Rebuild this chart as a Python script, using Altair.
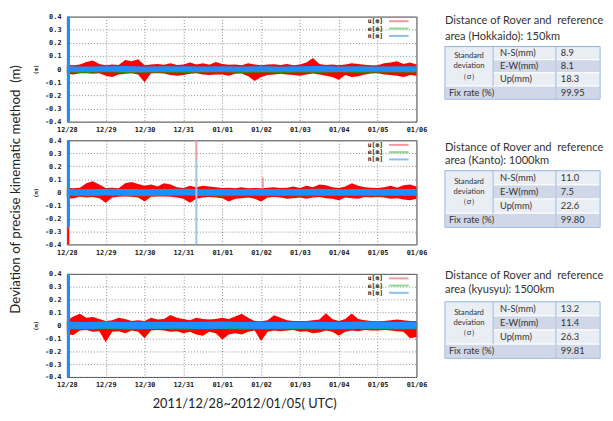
import altair as alt
import pandas as pd

# ---------------- data ----------------
START = "2011-12-28 00:00"
RED_STEP = "4h"      # envelope sampling of u[m]
BAND_STEP = "12h"    # envelope sampling of e[m] / n[m]

day_ticks = ["2011-12-28", "2011-12-29", "2011-12-30", "2011-12-31", "2012-01-01",
             "2012-01-02", "2012-01-03", "2012-01-04", "2012-01-05", "2012-01-06"]
y_ticks = [-0.4, -0.3, -0.2, -0.1, 0.0, 0.1, 0.2, 0.3, 0.4]
series_names = ["u[m]", "e[m]", "n[m]"]

# Hokkaido (150 km)
hok_u_hi = [0.032, 0.03, 0.035, 0.055, 0.065, 0.04,
            0.03, 0.035, 0.032, 0.07, 0.06, 0.075,
            0.03, 0.035, 0.04, 0.033, 0.045, 0.032,
            0.035, 0.05, 0.035, 0.045, 0.033, 0.055,
            0.04, 0.033, 0.035, 0.03, 0.045, 0.035,
            0.03, 0.035, 0.038, 0.032, 0.04, 0.03,
            0.035, 0.05, 0.085, 0.04, 0.032, 0.035,
            0.03, 0.035, 0.045, 0.04, 0.033, 0.03,
            0.03, 0.045, 0.05, 0.06, 0.04, 0.05, 0.035]
hok_u_lo = [-0.035, -0.04, -0.032, -0.032, -0.035, -0.032,
            -0.05, -0.06, -0.04, -0.035, -0.032, -0.04,
            -0.1, -0.032, -0.032, -0.033, -0.045, -0.05,
            -0.045, -0.035, -0.032, -0.04, -0.045, -0.04,
            -0.04, -0.05, -0.035, -0.033, -0.055, -0.09,
            -0.06, -0.045, -0.04, -0.035, -0.04, -0.045,
            -0.05, -0.04, -0.033, -0.04, -0.05, -0.06,
            -0.08, -0.045, -0.06, -0.055, -0.04, -0.033,
            -0.032, -0.04, -0.045, -0.05, -0.06, -0.045, -0.05]
hok_e_hi = [0.012, 0.01, 0.014, 0.01, 0.012, 0.015, 0.01, 0.012, 0.01, 0.014,
            0.012, 0.01, 0.013, 0.01, 0.012, 0.014, 0.01, 0.012, 0.01]
hok_e_lo = [-0.026, -0.028, -0.024, -0.028, -0.026, -0.025, -0.028, -0.026, -0.024, -0.028,
            -0.026, -0.028, -0.025, -0.027, -0.024, -0.028, -0.026, -0.025, -0.026]
hok_n_hi = [0.022, 0.02, 0.021, 0.023, 0.02, 0.021, 0.022, 0.02, 0.021, 0.02,
            0.022, 0.02, 0.021, 0.023, 0.02, 0.021, 0.02, 0.022, 0.021]
hok_n_lo = [-0.021, -0.02, -0.018, -0.021, -0.023, -0.02, -0.018, -0.021, -0.02, -0.018,
            -0.021, -0.02, -0.018, -0.02, -0.021, -0.02, -0.018, -0.02, -0.02]
hok_spk_t = ["2011-12-28 01:00"]
hok_spk_lo = [-0.4]
hok_spk_hi = [0.4]
hok_spk_s = ["n[m]"]

# Kanto (1000 km)
kan_u_hi = [0.035, 0.032, 0.035, 0.07, 0.085, 0.06,
            0.033, 0.035, 0.032, 0.07, 0.08, 0.065,
            0.05, 0.06, 0.045, 0.07, 0.06, 0.04,
            0.033, 0.05, 0.04, 0.05, 0.045, 0.04,
            0.033, 0.035, 0.032, 0.04, 0.032, 0.033,
            0.032, 0.035, 0.04, 0.033, 0.035, 0.045,
            0.033, 0.05, 0.04, 0.06, 0.055, 0.04,
            0.033, 0.045, 0.07, 0.05, 0.04, 0.035,
            0.033, 0.04, 0.05, 0.035, 0.055, 0.06, 0.045]
kan_u_lo = [-0.05, -0.045, -0.033, -0.04, -0.035, -0.045,
            -0.08, -0.04, -0.033, -0.032, -0.033, -0.04,
            -0.07, -0.033, -0.032, -0.032, -0.033, -0.04,
            -0.05, -0.08, -0.05, -0.04, -0.035, -0.04,
            -0.045, -0.07, -0.05, -0.045, -0.04, -0.05,
            -0.07, -0.04, -0.035, -0.04, -0.05, -0.045,
            -0.04, -0.05, -0.04, -0.035, -0.045, -0.05,
            -0.06, -0.04, -0.045, -0.05, -0.035, -0.04,
            -0.035, -0.04, -0.05, -0.045, -0.055, -0.06, -0.05]
kan_e_hi = [0.014, 0.012, 0.015, 0.012, 0.014, 0.016, 0.012, 0.014, 0.012, 0.015,
            0.013, 0.012, 0.014, 0.012, 0.015, 0.014, 0.012, 0.014, 0.012]
kan_e_lo = [-0.028, -0.03, -0.026, -0.028, -0.03, -0.028, -0.026, -0.028, -0.03, -0.028,
            -0.026, -0.028, -0.029, -0.028, -0.026, -0.028, -0.03, -0.028, -0.028]
kan_n_hi = [0.026, 0.024, 0.027, 0.025, 0.024, 0.026, 0.027, 0.024, 0.026, 0.024,
            0.026, 0.024, 0.026, 0.027, 0.024, 0.026, 0.024, 0.026, 0.026]
kan_n_lo = [-0.022, -0.024, -0.021, -0.023, -0.025, -0.022, -0.021, -0.024, -0.022, -0.021,
            -0.024, -0.022, -0.021, -0.023, -0.024, -0.022, -0.021, -0.023, -0.022]
kan_spk_t = ["2011-12-28 01:00", "2011-12-28 01:00", "2011-12-31 08:00", "2011-12-31 08:00", "2012-01-02 01:00"]
kan_spk_lo = [-0.27, -0.4, 0.25, -0.4, 0.03]
kan_spk_hi = [0.4, -0.27, 0.4, 0.25, 0.115]
kan_spk_s = ["n[m]", "u[m]", "u[m] faint", "n[m] faint", "u[m] faint"]

# Kyusyu (1500 km)
kyu_u_hi = [0.04, 0.07, 0.09, 0.06, 0.065, 0.05,
            0.035, 0.04, 0.06, 0.05, 0.035, 0.04,
            0.035, 0.06, 0.045, 0.05, 0.08, 0.06,
            0.05, 0.04, 0.06, 0.05, 0.045, 0.05,
            0.06, 0.05, 0.07, 0.09, 0.06, 0.035,
            0.033, 0.04, 0.078, 0.06, 0.04, 0.035,
            0.035, 0.035, 0.04, 0.045, 0.095, 0.05,
            0.035, 0.05, 0.093, 0.05, 0.04, 0.035,
            0.033, 0.035, 0.04, 0.045, 0.04, 0.035, 0.035]
kyu_u_lo = [-0.07, -0.075, -0.04, -0.035, -0.05, -0.045,
            -0.13, -0.05, -0.045, -0.06, -0.04, -0.05,
            -0.1, -0.04, -0.035, -0.04, -0.05, -0.045,
            -0.06, -0.05, -0.07, -0.08, -0.05, -0.06,
            -0.11, -0.07, -0.06, -0.07, -0.05, -0.04,
            -0.12, -0.05, -0.04, -0.045, -0.04, -0.035,
            -0.05, -0.045, -0.06, -0.055, -0.04, -0.05,
            -0.08, -0.05, -0.04, -0.045, -0.035, -0.04,
            -0.04, -0.035, -0.04, -0.045, -0.05, -0.1, -0.09]
kyu_e_hi = [0.03, 0.025, 0.022, 0.024, 0.022, 0.026, 0.022, 0.024, 0.027, 0.022,
            0.024, 0.022, 0.026, 0.022, 0.024, 0.022, 0.026, 0.024, 0.022]
kyu_e_lo = [-0.03, -0.032, -0.028, -0.031, -0.03, -0.028, -0.032, -0.03, -0.028, -0.031,
            -0.03, -0.032, -0.028, -0.03, -0.031, -0.028, -0.03, -0.032, -0.03]
kyu_n_hi = [0.028, 0.026, 0.03, 0.026, 0.028, 0.029, 0.026, 0.028, 0.03, 0.026,
            0.028, 0.026, 0.029, 0.028, 0.026, 0.03, 0.028, 0.026, 0.028]
kyu_n_lo = [-0.026, -0.028, -0.024, -0.026, -0.028, -0.026, -0.024, -0.028, -0.026, -0.024,
            -0.028, -0.026, -0.024, -0.026, -0.028, -0.026, -0.024, -0.026, -0.026]
kyu_spk_t = ["2011-12-28 01:00"]
kyu_spk_lo = [-0.4]
kyu_spk_hi = [0.4]
kyu_spk_s = ["n[m]"]

# tables
region_heads = ["Distance of Rover and\u00a0 reference"] * 3
region_lines = ["area (Hokkaido): 150km", "area (Kanto): 1000km", "area (kyusyu): 1500km"]
std_rows = ["N-S(mm)", "E-W(mm)", "Up(mm)"]
std_label = ["Standard", "deviation", "（σ）"]
std_ns = [8.9, 11.0, 13.2]
std_ew = [8.1, 7.5, 11.4]
std_up = [18.3, 22.6, 26.3]
fix_rate = [99.95, 99.80, 99.81]

# ---------------- styles / layout ----------------
series_color = {"u[m]": "#ff0000", "e[m]": "#00b400", "n[m]": "#1e8fff",
                "u[m] faint": "#e89c9c", "n[m] faint": "#9cc3e8"}
series_width = {"u[m]": 1.5, "e[m]": 1.5, "n[m]": 3, "u[m] faint": 2, "n[m] faint": 2}
legend_color = ["#f39a9a", "#8fd88f", "#8cc0ec"]
MONO = "DejaVu Sans Mono"
SANS = "Lato"
PW = 356


def dt(s):
    ts = pd.Timestamp(s)
    return alt.DateTime(year=ts.year, month=ts.month, date=ts.day, hours=ts.hour, minutes=ts.minute)


X_ENC = alt.X("t:T", title=None,
              scale=alt.Scale(domain=[dt(day_ticks[0]), dt(day_ticks[-1])]),
              axis=alt.Axis(values=[dt(d) for d in day_ticks], format="%m/%d", labelPadding=4,
                            labelOverlap=False, labelFlush=False, tickCount=len(day_ticks)))
Y_ENC = alt.Y("hi:Q", title="(m)",
              scale=alt.Scale(domain=[-0.4, 0.4], nice=False, zero=False),
              axis=alt.Axis(values=y_ticks, labelPadding=6, titlePadding=6, labelOverlap=False,
                            tickCount=len(y_ticks),
                            labelExpr="datum.value == 0 ? '0' : (datum.value < 0 ? '-' : '') + format(abs(datum.value), '.1f')"))


def panel(u_hi, u_lo, e_hi, e_lo, n_hi, n_lo, spk_t, spk_lo, spk_hi, spk_s, height, extra=None):
    red = pd.DataFrame({"t": pd.date_range(START, periods=len(u_hi), freq=RED_STEP), "hi": u_hi, "lo": u_lo})
    grn = pd.DataFrame({"t": pd.date_range(START, periods=len(e_hi), freq=BAND_STEP), "hi": e_hi, "lo": e_lo})
    blu = pd.DataFrame({"t": pd.date_range(START, periods=len(n_hi), freq=BAND_STEP), "hi": n_hi, "lo": n_lo})
    spk = pd.DataFrame({"t": pd.to_datetime(spk_t), "lo": spk_lo, "hi": spk_hi, "s": spk_s})
    spk["c"] = spk["s"].map(series_color)
    spk["w"] = spk["s"].map(series_width)
    leg = pd.DataFrame({"label": series_names, "row": [0, 1, 2], "c": legend_color})

    area_red = alt.Chart(red).mark_area(color="#ff0000", interpolate="linear").encode(
        x=X_ENC, y=Y_ENC, y2="lo:Q")
    area_grn = alt.Chart(grn).mark_area(color="#00b400", interpolate="linear").encode(
        x=X_ENC, y=Y_ENC, y2="lo:Q")
    area_blu = alt.Chart(blu).mark_area(color="#1e8fff", interpolate="linear").encode(
        x=X_ENC, y=Y_ENC, y2="lo:Q")
    spikes = alt.Chart(spk).mark_rule().encode(
        x=X_ENC, y=Y_ENC, y2="lo:Q",
        color=alt.Color("c:N", scale=None),
        strokeWidth=alt.StrokeWidth("w:Q", scale=None))
    leg_base = alt.Chart(leg).transform_calculate(hi="0.365 - datum.row * 0.056")
    leg_text = leg_base.mark_text(align="right", baseline="middle", font=MONO, fontWeight="bold",
                                  fontSize=6.5, color="#111").encode(
        x=alt.value(322), y=Y_ENC, text="label:N")
    leg_line = leg_base.mark_rule(strokeWidth=2).encode(
        x=alt.value(328), x2=alt.value(348), y=Y_ENC, color=alt.Color("c:N", scale=None))
    layers = [area_red, area_grn, area_blu, spikes, leg_text, leg_line]
    if extra is not None:
        layers.append(extra)
    return alt.layer(*layers).properties(width=PW, height=height)


big_title = alt.Chart(pd.DataFrame({"txt": ["Deviation of precise kinematic method\u00a0 (m)"]})).mark_text(
    angle=270, align="center", baseline="middle", font=SANS, fontSize=13.5, color="#222").encode(
    x=alt.value(-52), y=alt.value(50), text="txt:N")
bottom_title = alt.Chart(pd.DataFrame({"txt": ["2011/12/28~2012/01/05( UTC)"]})).mark_text(
    align="center", baseline="middle", font=SANS, fontSize=13, color="#222").encode(
    x=alt.value(181), y=alt.value(133), text="txt:N")

p1 = panel(hok_u_hi, hok_u_lo, hok_e_hi, hok_e_lo, hok_n_hi, hok_n_lo,
           hok_spk_t, hok_spk_lo, hok_spk_hi, hok_spk_s, 107)
p2 = panel(kan_u_hi, kan_u_lo, kan_e_hi, kan_e_lo, kan_n_hi, kan_n_lo,
           kan_spk_t, kan_spk_lo, kan_spk_hi, kan_spk_s, 106, big_title)
p3 = panel(kyu_u_hi, kyu_u_lo, kyu_e_hi, kyu_e_lo, kyu_n_hi, kyu_n_lo,
           kyu_spk_t, kyu_spk_lo, kyu_spk_hi, kyu_spk_s, 105, bottom_title)

# ---------------- tables ----------------
TW = 158
COL_EDGES = [0, 49, 113, 158]


def table(i, chart_h, head_lines_y, table_top, row_h):
    xs = alt.Scale(domain=[0, TW], nice=False, zero=False)
    ys = alt.Scale(domain=[0, chart_h], reverse=True, nice=False, zero=False)
    redge = [table_top + k * row_h for k in range(5)]
    rmid = [table_top + (k + 0.5) * row_h for k in range(4)]
    cells = pd.DataFrame({
        "c0": [0, 1, 2, 1, 2, 1, 2, 0, 2],
        "c1": [1, 2, 3, 2, 3, 2, 3, 2, 3],
        "r0": [0, 0, 0, 1, 1, 2, 2, 3, 3],
        "r1": [3, 1, 1, 2, 2, 3, 3, 4, 4],
        "shade": ["light", "light", "light", "dark", "dark", "light", "light", "dark", "dark"],
    })
    cells["x0"] = cells["c0"].map(lambda c: COL_EDGES[c])
    cells["x1"] = cells["c1"].map(lambda c: COL_EDGES[c])
    cells["y0"] = cells["r0"].map(lambda r: redge[r])
    cells["y1"] = cells["r1"].map(lambda r: redge[r])
    X = lambda f: alt.X(f, scale=xs, axis=None)
    Y = lambda f: alt.Y(f, scale=ys, axis=None)
    rects = alt.Chart(cells).mark_rect(stroke="white", strokeWidth=1).encode(
        x=X("x0:Q"), x2="x1:Q", y=Y("y0:Q"), y2="y1:Q",
        fill=alt.Fill("shade:N", scale=alt.Scale(domain=["light", "dark"], range=["#e9edf4", "#cfd7e8"]),
                      legend=None))
    border = alt.Chart(pd.DataFrame({"x0": [0], "x1": [TW], "y0": [redge[0]], "y1": [redge[4]]})).mark_rect(
        fill="transparent", stroke="#8fb0dc", strokeWidth=1).encode(
        x=X("x0:Q"), x2="x1:Q", y=Y("y0:Q"), y2="y1:Q")
    vlines = alt.Chart(pd.DataFrame({"x0": COL_EDGES[1:3], "y0": [redge[0]] * 2,
                                     "y1": [redge[3], redge[4]]})).mark_rule(
        stroke="#8fb0dc", strokeWidth=1).encode(x=X("x0:Q"), y=Y("y0:Q"), y2="y1:Q")
    vals = [f"{std_ns[i]:.1f}", f"{std_ew[i]:.1f}", f"{std_up[i]:.1f}", f"{fix_rate[i]:.2f}"]
    txt = pd.DataFrame({
        "label": std_rows + ["Fix rate (%)"] + vals,
        "x0": [COL_EDGES[1] + 7] * 3 + [4] + [COL_EDGES[2] + 5] * 4,
        "y0": rmid * 2,
    })
    texts = alt.Chart(txt).mark_text(align="left", baseline="middle", font=SANS, fontSize=9.5,
                                     color="#333").encode(x=X("x0:Q"), y=Y("y0:Q"), text="label:N")
    sd_lh = 10.5
    sd = alt.Chart(pd.DataFrame({"label": std_label, "x0": [COL_EDGES[1] / 2] * 3,
                                 "y0": [rmid[1] - sd_lh, rmid[1], rmid[1] + sd_lh]})).mark_text(
        align="center", baseline="middle", font=SANS, fontSize=7.8, color="#333").encode(
        x=X("x0:Q"), y=Y("y0:Q"), text="label:N")
    head = alt.Chart(pd.DataFrame({"label": [region_heads[i], region_lines[i]], "x0": [0, 0],
                                   "y0": head_lines_y})).mark_text(
        align="left", baseline="middle", font=SANS, fontSize=11.3, color="#333").encode(
        x=X("x0:Q"), y=Y("y0:Q"), text="label:N")
    return alt.layer(rects, vlines, border, texts, sd, head).properties(
        width=TW, height=chart_h, view=alt.ViewBackground(stroke="transparent"))


t1 = table(0, 87, [4.5, 20.5], 30.5, 13.4)
t2 = table(1, 116.6, [7.5, 21.5], 31.0, 14.4)
t3 = table(2, 87, [2.0, 16.0], 28.4, 14.4)

chart = alt.concat(p1, t1, p2, t2, p3, t3, columns=2, spacing={"row": 19, "column": 29},
                   bounds="flush", align="each").properties(
    padding={"left": 0, "top": 0, "right": 0, "bottom": 0}
).configure_view(stroke="#444", strokeWidth=1).configure_axis(
    labelFont=MONO, labelFontWeight="bold", labelFontSize=7, labelColor="#222",
    ticks=False, domain=False, grid=True, gridColor="#8a8a8a", gridDash=[1, 2], gridWidth=1,
    labelFlush=False, labelOverlap=False,
    titleFont=MONO, titleFontWeight="bold", titleFontSize=5.5, titleColor="#222")

chart.save("out.html", embed_options={"renderer": "svg", "actions": False})
